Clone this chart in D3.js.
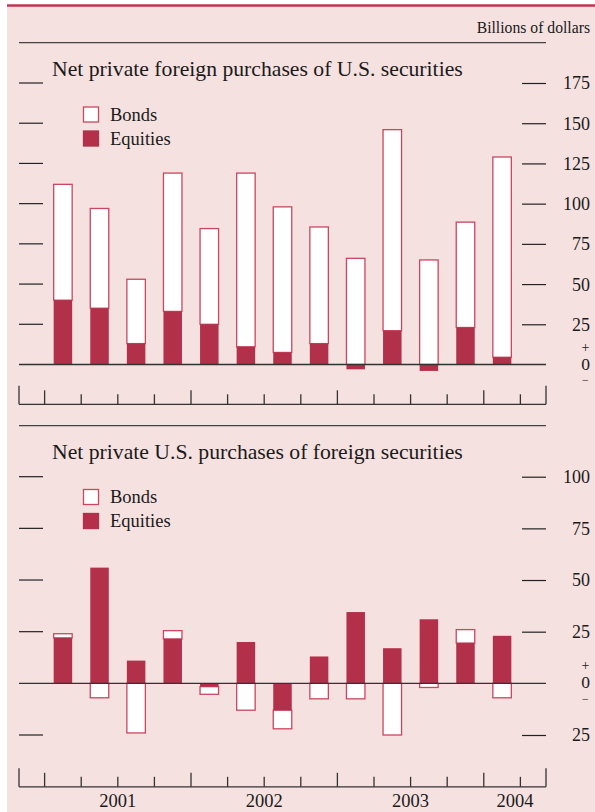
<!DOCTYPE html>
<html>
<head>
<meta charset="utf-8">
<script src="https://cdn.jsdelivr.net/npm/d3@7/dist/d3.min.js"></script>
<style>
  body { margin: 0; background: #ffffff; }
  text { font-family: "Liberation Serif", "Times New Roman", serif; fill: #1a1a1a; }
</style>
</head>
<body>
<div id="chart"></div>
<script>
// Quarterly data, billions of dollars
var quarters = ["2001 Q1", "2001 Q2", "2001 Q3", "2001 Q4",
                "2002 Q1", "2002 Q2", "2002 Q3", "2002 Q4",
                "2003 Q1", "2003 Q2", "2003 Q3", "2003 Q4",
                "2004 Q1"];
var years = ["2001", "2002", "2003", "2004"];

// Net private foreign purchases of U.S. securities
var foreignBonds    = [72, 62, 40, 86, 59.5, 108, 90.5, 72.5, 66, 125, 65, 65.5, 124.5];
var foreignEquities = [40, 35, 13, 33, 25, 11, 7.5, 13, -3, 21, -4, 23, 4.5];

// Net private U.S. purchases of foreign securities
var usBonds    = [2, -7, -24, 4, -3.7, -13, -9, -7.5, -7.5, -25, -2, 6.5, -7];
var usEquities = [22, 56, 11, 21.5, -1.6, 20, -13, 13, 34.5, 17, 31, 19.5, 23];

var topTicks = [25, 50, 75, 100, 125, 150, 175];
var bottomTicks = [-25, 25, 50, 75, 100];
var seriesNames = ["Bonds", "Equities"];

var width = 595;
var height = 812;
var bg = "#f5e1e0";
var red = "#b3304a";
var redLine = "#c9475f";
var ink = "#222";

var svg = d3.select("#chart").append("svg")
  .attr("width", width)
  .attr("height", height);

svg.append("rect")
  .attr("x", 7).attr("y", 6)
  .attr("width", width - 7).attr("height", height - 6)
  .attr("fill", bg);

svg.append("line")
  .attr("x1", 7).attr("x2", width)
  .attr("y1", 5.5).attr("y2", 5.5)
  .attr("stroke", "#c0354f")
  .attr("stroke-width", 2.5);

svg.append("text")
  .attr("x", 590).attr("y", 33)
  .attr("text-anchor", "end")
  .attr("font-size", "15.7px")
  .text("Billions of dollars");

// shared quarter scale
var x = d3.scaleLinear()
  .domain([-0.7, quarters.length + 0.7])
  .range([19, 546]);
var barW = 18.5;

function panel(opt) {
  var g = svg.append("g");
  var y = opt.y;

  // separator line above the panel
  g.append("line")
    .attr("x1", 19).attr("x2", 546)
    .attr("y1", opt.sepY).attr("y2", opt.sepY)
    .attr("stroke", "#444").attr("stroke-width", 1.2);

  g.append("text")
    .attr("x", 52).attr("y", opt.titleY)
    .attr("font-size", "21.7px")
    .text(opt.title);

  // horizontal tick marks, left and right
  g.selectAll(".lt").data(opt.ticks).enter().append("line")
    .attr("x1", 19).attr("x2", 43)
    .attr("y1", d => y(d)).attr("y2", d => y(d))
    .attr("stroke", ink).attr("stroke-width", 1.2);

  var yr = d3.axisRight(y)
    .tickValues(opt.ticks)
    .tickSize(24)
    .tickFormat(d => Math.abs(d));
  var ax = g.append("g")
    .attr("transform", "translate(522,0)")
    .call(yr);
  ax.select(".domain").remove();
  ax.selectAll("line").attr("stroke", ink).attr("stroke-width", 1.2);
  ax.selectAll("text")
    .attr("x", 68).attr("dy", "0.33em")
    .attr("text-anchor", "end")
    .attr("font-family", "Liberation Serif, serif")
    .attr("font-size", "18px")
    .attr("fill", "#1a1a1a");

  // + 0 - marker next to the zero line
  var z = y(0);
  g.append("text").attr("x", 585.5).attr("y", z - 13)
    .attr("text-anchor", "middle").attr("font-size", "14px").text("+");
  g.append("text").attr("x", 590).attr("y", z + 5)
    .attr("text-anchor", "end").attr("font-size", "17.5px").text("0");
  g.append("text").attr("x", 585.5).attr("y", z + 19.5)
    .attr("text-anchor", "middle").attr("font-size", "12px").text("\u2212");

  // stacked bars
  var rows = quarters.map(function (q, i) {
    return { quarter: q, Equities: opt.equities[i], Bonds: opt.bonds[i] };
  });
  var stack = d3.stack()
    .keys(["Bonds", "Equities"])
    .order(d3.stackOrderReverse)
    .offset(d3.stackOffsetDiverging);
  var layers = stack(rows);

  var bondLayer = layers.find(l => l.key == "Bonds");
  var eqLayer = layers.find(l => l.key == "Equities");

  g.append("g").selectAll("rect").data(bondLayer).enter().append("rect")
    .attr("x", (d, i) => x(i + 0.5) - barW / 2)
    .attr("width", barW)
    .attr("y", d => y(Math.max(d[0], d[1])))
    .attr("height", d => Math.abs(y(d[0]) - y(d[1])))
    .attr("fill", "#ffffff")
    .attr("stroke", redLine)
    .attr("stroke-width", 1.3);

  g.append("g").selectAll("rect").data(eqLayer).enter().append("rect")
    .attr("x", (d, i) => x(i + 0.5) - barW / 2)
    .attr("width", barW)
    .attr("y", d => y(Math.max(d[0], d[1])))
    .attr("height", d => Math.abs(y(d[0]) - y(d[1])))
    .attr("fill", red);

  // zero line
  g.append("line")
    .attr("x1", 19).attr("x2", 546)
    .attr("y1", z).attr("y2", z)
    .attr("stroke", "#333").attr("stroke-width", 1.3);

  // legend
  var lg = g.append("g");
  seriesNames.forEach(function (name, i) {
    var ly = opt.legendY + i * 24;
    lg.append("rect")
      .attr("x", 83.5).attr("y", ly)
      .attr("width", 15).attr("height", 15)
      .attr("fill", name == "Bonds" ? "#ffffff" : red)
      .attr("stroke", name == "Bonds" ? redLine : red)
      .attr("stroke-width", 1.3);
    lg.append("text")
      .attr("x", 110).attr("y", ly + 13.5)
      .attr("font-size", "18.5px")
      .text(name);
  });

  // time axis
  var tb = opt.timeY;
  g.append("line")
    .attr("x1", 19).attr("x2", 546)
    .attr("y1", tb).attr("y2", tb)
    .attr("stroke", "#333").attr("stroke-width", 1.3);
  var qt = d3.range(0, quarters.length + 1);
  g.selectAll(".qt").data(qt).enter().append("line")
    .attr("x1", d => x(d)).attr("x2", d => x(d))
    .attr("y1", d => tb - (d % 4 == 0 ? 14 : 10)).attr("y2", tb)
    .attr("stroke", "#333").attr("stroke-width", 1.3);
  g.selectAll(".edge").data(x.range()).enter().append("line")
    .attr("x1", d => d).attr("x2", d => d)
    .attr("y1", tb - 18.5).attr("y2", tb)
    .attr("stroke", "#333").attr("stroke-width", 1.3);

  if (opt.yearLabels) {
    g.selectAll(".yl").data(years).enter().append("text")
      .attr("x", function (d, i) {
        var a = x(i * 4), b = Math.min(x(i * 4 + 4), x.range()[1]);
        return (a + b) / 2;
      })
      .attr("y", tb + 20.5)
      .attr("text-anchor", "middle")
      .attr("font-size", "18.5px")
      .text(d => d);
  }
}

panel({
  title: "Net private foreign purchases of U.S. securities",
  sepY: 42.7,
  titleY: 75.5,
  y: d3.scaleLinear().domain([0, 175]).range([364.5, 83]),
  ticks: topTicks,
  bonds: foreignBonds,
  equities: foreignEquities,
  legendY: 107,
  timeY: 404.3,
  yearLabels: false
});

panel({
  title: "Net private U.S. purchases of foreign securities",
  sepY: 425.7,
  titleY: 458.5,
  y: d3.scaleLinear().domain([-25, 100]).range([735, 476.7]),
  ticks: bottomTicks,
  bonds: usBonds,
  equities: usEquities,
  legendY: 489.5,
  timeY: 786.8,
  yearLabels: true
});
</script>
</body>
</html>
